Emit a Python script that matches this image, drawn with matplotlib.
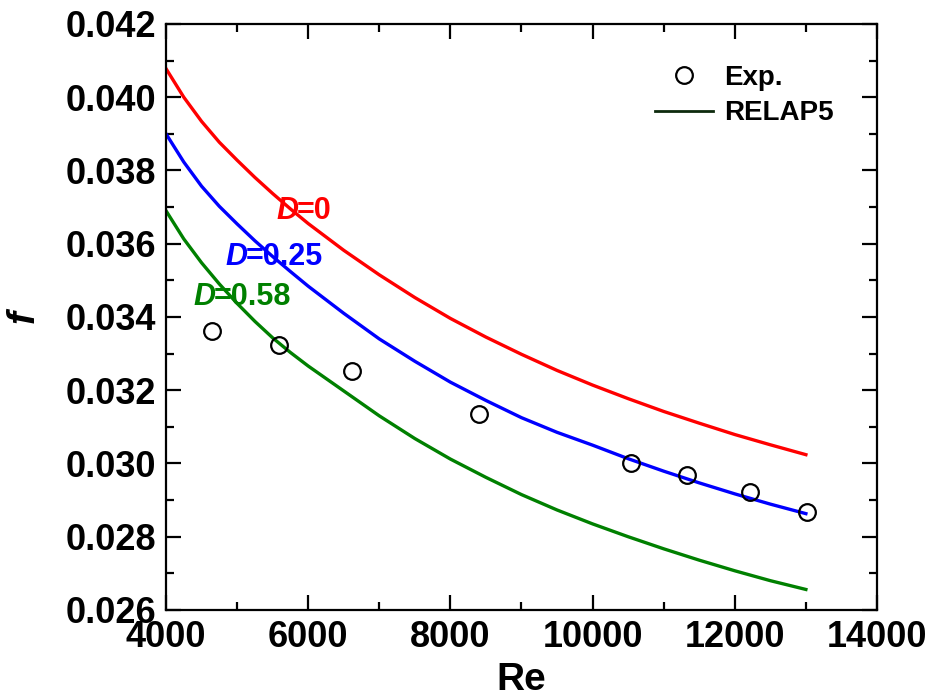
import matplotlib.pyplot as plt
from matplotlib.ticker import MultipleLocator

plt.rcParams['font.family'] = ['Liberation Sans', 'DejaVu Sans']
plt.rcParams['font.weight'] = 'bold'

# ----- Data ----- #
re_exp = [4650, 5590, 6615, 8400, 10540, 11330, 12215, 13015]
f_exp = [0.03361, 0.03323, 0.03252, 0.03135, 0.03001, 0.02968, 0.02922, 0.02867]

re_calc = [4000, 4250, 4500, 4750, 5000, 5250, 5500, 5750, 6000, 6500, 7000, 7500,
           8000, 8500, 9000, 9500, 10000, 10500, 11000, 11500, 12000, 12500, 13000]
f_d0 = [0.04078, 0.04000, 0.03934, 0.03877, 0.03828, 0.03781, 0.03737, 0.03695, 0.03655,
        0.03582, 0.03515, 0.03453, 0.03396, 0.03345, 0.03298, 0.03254, 0.03214, 0.03177,
        0.03142, 0.03110, 0.03079, 0.03051, 0.03024]
f_d025 = [0.03900, 0.03823, 0.03757, 0.03702, 0.03654, 0.03608, 0.03565, 0.03524, 0.03484,
          0.03410, 0.03340, 0.03279, 0.03222, 0.03172, 0.03125, 0.03085, 0.03050, 0.03013,
          0.02979, 0.02947, 0.02917, 0.02889, 0.02863]
f_d058 = [0.03690, 0.03613, 0.03548, 0.03490, 0.03437, 0.03388, 0.03343, 0.03303, 0.03266,
          0.03198, 0.03130, 0.03068, 0.03012, 0.02962, 0.02915, 0.02873, 0.02835, 0.02800,
          0.02767, 0.02736, 0.02707, 0.02680, 0.02656]

labels = [('=0', '#ff0000', 5550, 0.0369),
          ('=0.25', '#0000ff', 4830, 0.03565),
          ('=0.58', '#008000', 4380, 0.03455)]

fig = plt.figure(figsize=(9.3, 6.96), dpi=100)
ax = fig.add_axes([0.1785, 0.1236, 0.7645, 0.842])

ax.plot(re_calc, f_d0, color='#ff0000', linewidth=2.4)
ax.plot(re_calc, f_d025, color='#0000ff', linewidth=2.4)
ax.plot(re_calc, f_d058, color='#008000', linewidth=2.4)
ax.plot(re_exp, f_exp, linestyle='none', marker='o', markersize=12, markerfacecolor='none',
        markeredgecolor='black', markeredgewidth=1.6, label='Exp.')
# legend entry for the model lines
ax.plot([], [], color='#0d2a0d', linewidth=2.0, label='RELAP5')

# curve labels: italic D followed by the value
for txt, col, x0, y0 in labels:
    d = ax.text(x0, y0, 'D', color=col, fontsize=22, fontstyle='italic',
                fontweight='bold', va='center')
    ax.annotate(txt, xy=(1, 0.5), xycoords=d, xytext=(-1, 0), textcoords='offset points',
                color=col, fontsize=22, fontweight='bold', va='center', ha='left')

ax.set_xlim(4000, 14000)
ax.set_ylim(0.026, 0.042)
ax.xaxis.set_major_locator(MultipleLocator(2000))
ax.xaxis.set_minor_locator(MultipleLocator(1000))
ax.yaxis.set_major_locator(MultipleLocator(0.002))
ax.yaxis.set_minor_locator(MultipleLocator(0.001))
ax.yaxis.set_major_formatter(plt.FormatStrFormatter('%.3f'))

ax.tick_params(which='both', direction='in', top=True, right=True, width=1.6)
ax.tick_params(which='major', length=11, labelsize=26, pad=7)
ax.tick_params(which='minor', length=6)
for lab in ax.get_xticklabels() + ax.get_yticklabels():
    lab.set_fontweight('bold')
for sp in ax.spines.values():
    sp.set_linewidth(1.6)

ax.set_xlabel('Re', fontsize=28, fontweight='bold', labelpad=5)
ax.set_ylabel('f', fontsize=28, fontweight='bold', fontstyle='italic')
ax.yaxis.set_label_coords(-0.175, 0.5)

ax.legend(loc='upper right', bbox_to_anchor=(0.975, 0.973), frameon=False, fontsize=20,
          handlelength=2.1, handletextpad=0.4, labelspacing=0.35)

fig.savefig('out.png', dpi=100)
